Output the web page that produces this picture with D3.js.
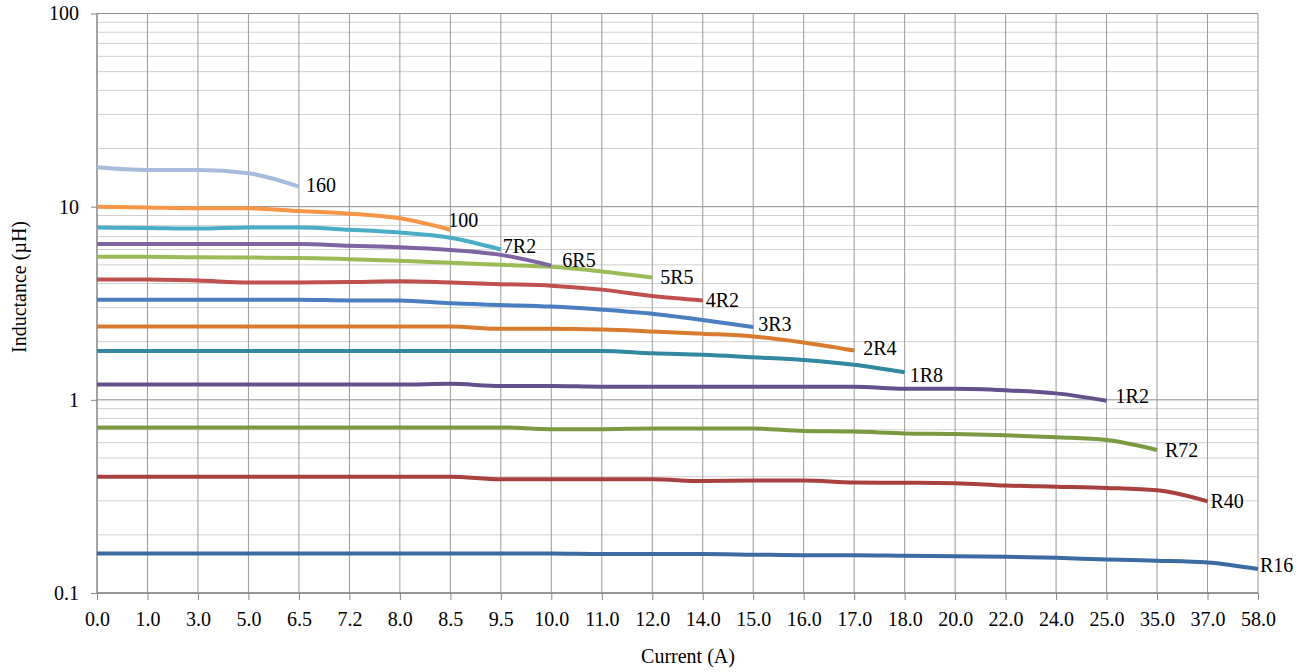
<!DOCTYPE html>
<html>
<head>
<meta charset="utf-8">
<script src="https://cdn.jsdelivr.net/npm/d3@7"></script>
<style>
  html, body { margin: 0; padding: 0; background: #ffffff; }
  svg { display: block; }
  text { font-family: "Liberation Serif", "Times New Roman", serif; fill: #000; }
</style>
</head>
<body>
<svg id="chart" width="1311" height="672"></svg>
<script>
// ---- data ----
const categories = ["0.0","1.0","3.0","5.0","6.5","7.2","8.0","8.5","9.5","10.0","11.0","12.0",
                    "14.0","15.0","16.0","17.0","18.0","20.0","22.0","24.0","25.0","35.0","37.0","58.0"];
const yTickValues = [0.1, 1, 10, 100];
const yTickLabels = ["0.1", "1", "10", "100"];
const seriesNames = ["160","100","7R2","6R5","5R5","4R2","3R3","2R4","1R8","1R2","R72","R40","R16"];

const s160 = [16.0, 15.5, 15.5, 14.9, 12.7];
const s100 = [10.0, 9.9, 9.8, 9.8, 9.5, 9.2, 8.7, 7.6];
const s7R2 = [7.8, 7.75, 7.7, 7.8, 7.8, 7.6, 7.35, 6.9, 6.0];
const s6R5 = [6.4, 6.4, 6.4, 6.4, 6.4, 6.27, 6.17, 5.97, 5.63, 4.95];
const s5R5 = [5.5, 5.5, 5.47, 5.45, 5.43, 5.35, 5.25, 5.12, 5.0, 4.88, 4.62, 4.3];
const s4R2 = [4.2, 4.2, 4.15, 4.05, 4.05, 4.07, 4.11, 4.05, 3.97, 3.9, 3.72, 3.45, 3.27];
const s3R3 = [3.3, 3.3, 3.3, 3.3, 3.3, 3.27, 3.27, 3.16, 3.1, 3.04, 2.93, 2.79, 2.59, 2.38];
const s2R4 = [2.4, 2.4, 2.4, 2.4, 2.4, 2.4, 2.4, 2.4, 2.33, 2.33, 2.31, 2.26, 2.2, 2.13, 1.98, 1.8];
const s1R8 = [1.79, 1.79, 1.79, 1.79, 1.79, 1.79, 1.79, 1.79, 1.79, 1.79, 1.79, 1.74, 1.71, 1.66, 1.61, 1.52, 1.39];
const s1R2 = [1.2, 1.2, 1.2, 1.2, 1.2, 1.2, 1.2, 1.21, 1.18, 1.18, 1.17, 1.17, 1.17, 1.17, 1.17, 1.17, 1.14, 1.14, 1.12, 1.08, 0.99];
const sR72 = [0.72, 0.72, 0.72, 0.72, 0.72, 0.72, 0.72, 0.72, 0.72, 0.705, 0.705, 0.71, 0.71, 0.71, 0.69, 0.685, 0.67, 0.665, 0.655, 0.64, 0.62, 0.55];
const sR40 = [0.40, 0.40, 0.40, 0.40, 0.40, 0.40, 0.40, 0.40, 0.388, 0.388, 0.388, 0.388, 0.38, 0.382, 0.382, 0.373, 0.372, 0.37, 0.36, 0.355, 0.35, 0.34, 0.298];
const sR16 = [0.16, 0.16, 0.16, 0.16, 0.16, 0.16, 0.16, 0.16, 0.16, 0.16, 0.159, 0.159, 0.159, 0.158, 0.157, 0.157, 0.156, 0.155, 0.154, 0.152, 0.149, 0.147, 0.144, 0.133];

const seriesValues = [s160, s100, s7R2, s6R5, s5R5, s4R2, s3R3, s2R4, s1R8, s1R2, sR72, sR40, sR16];

// ---- styles ----
const colors = ["#a7bbdc", "#f79646", "#4bacc6", "#8064a2", "#9bbb59", "#c0504d", "#4a7ec0",
                "#d97b2e", "#32889e", "#64508a", "#7a9a41", "#a8413e", "#3c6aa2"];
// label offsets (px) relative to each series end point
const labelDx = [7, -2, 2, 11, 8, 3, 5, 9, 5, 9, 8, 3, 2];
const labelDy = [-1, -9.5, -3.5, -5, 0, 0, -3, -2.5, 2.7, -4, 0, 0, -3.5];

// ---- layout ----
const margin = { left: 97, right: 1258, top: 13.5, bottom: 593 };
const svg = d3.select("#chart");

const x = d3.scalePoint().domain(categories).range([margin.left, margin.right]);
const y = d3.scaleLog().domain([0.1, 100]).range([margin.bottom, margin.top]);

// minor horizontal gridlines
const minorVals = [];
[0.1, 1, 10].forEach(d => { for (let k = 2; k <= 9; k++) minorVals.push(d * k); });
svg.append("g").selectAll("line").data(minorVals).join("line")
  .attr("x1", margin.left).attr("x2", margin.right)
  .attr("y1", d => y(d)).attr("y2", d => y(d))
  .attr("stroke", "#d0d0d0").attr("stroke-width", 1);

// major horizontal gridlines
svg.append("g").selectAll("line").data(yTickValues).join("line")
  .attr("x1", margin.left).attr("x2", margin.right)
  .attr("y1", d => y(d)).attr("y2", d => y(d))
  .attr("stroke", "#8c8c8c").attr("stroke-width", 1);

// vertical gridlines
svg.append("g").selectAll("line").data(categories.slice(1)).join("line")
  .attr("x1", d => x(d)).attr("x2", d => x(d))
  .attr("y1", margin.top).attr("y2", margin.bottom)
  .attr("stroke", "#9a9a9a").attr("stroke-width", 1);

// axes
const xAxis = d3.axisBottom(x).tickSize(7).tickPadding(12);
const gx = svg.append("g").attr("transform", `translate(0,${margin.bottom})`).call(xAxis);
gx.selectAll("text").style("font-size", "20px").style("font-family", "'Liberation Serif', serif");
gx.selectAll("line").attr("stroke", "#868686");
gx.select(".domain").attr("stroke", "#868686").attr("stroke-width", 1.5)
  .attr("d", `M${margin.left},0H${margin.right}`);

const yAxis = d3.axisLeft(y).tickValues(yTickValues)
  .tickFormat((d, i) => yTickLabels[i]).tickSize(6).tickPadding(12);
const gy = svg.append("g").attr("transform", `translate(${margin.left},0)`).call(yAxis);
gy.selectAll("text").style("font-size", "20px").style("font-family", "'Liberation Serif', serif");
gy.selectAll("line").attr("stroke", "#868686");
gy.select(".domain").attr("stroke", "#868686").attr("stroke-width", 1.5)
  .attr("d", `M0,${margin.top}V${margin.bottom}`);

// lines
const line = d3.line()
  .x((d, i) => x(categories[i]))
  .y(d => y(d))
  .curve(d3.curveMonotoneX);

const linesG = svg.append("g");
seriesValues.slice().reverse().forEach((vals, ri) => {
  const i = seriesValues.length - 1 - ri;
  linesG.append("path")
    .attr("d", line(vals))
    .attr("fill", "none")
    .attr("stroke", colors[i])
    .attr("stroke-width", 4)
    .attr("stroke-linejoin", "round");
});

// end labels
svg.append("g").selectAll("text").data(seriesNames).join("text")
  .attr("x", (d, i) => x(categories[seriesValues[i].length - 1]) + labelDx[i])
  .attr("y", (d, i) => y(seriesValues[i][seriesValues[i].length - 1]) + labelDy[i])
  .attr("dy", "0.33em")
  .style("font-size", "20px")
  .text(d => d);

// axis titles
svg.append("text")
  .attr("x", 688).attr("y", 663)
  .attr("text-anchor", "middle")
  .style("font-size", "20px")
  .text("Current (A)");

svg.append("text")
  .attr("transform", "translate(26,287) rotate(-90)")
  .attr("text-anchor", "middle")
  .style("font-size", "20px")
  .text("Inductance (µH)");
</script>
</body>
</html>
